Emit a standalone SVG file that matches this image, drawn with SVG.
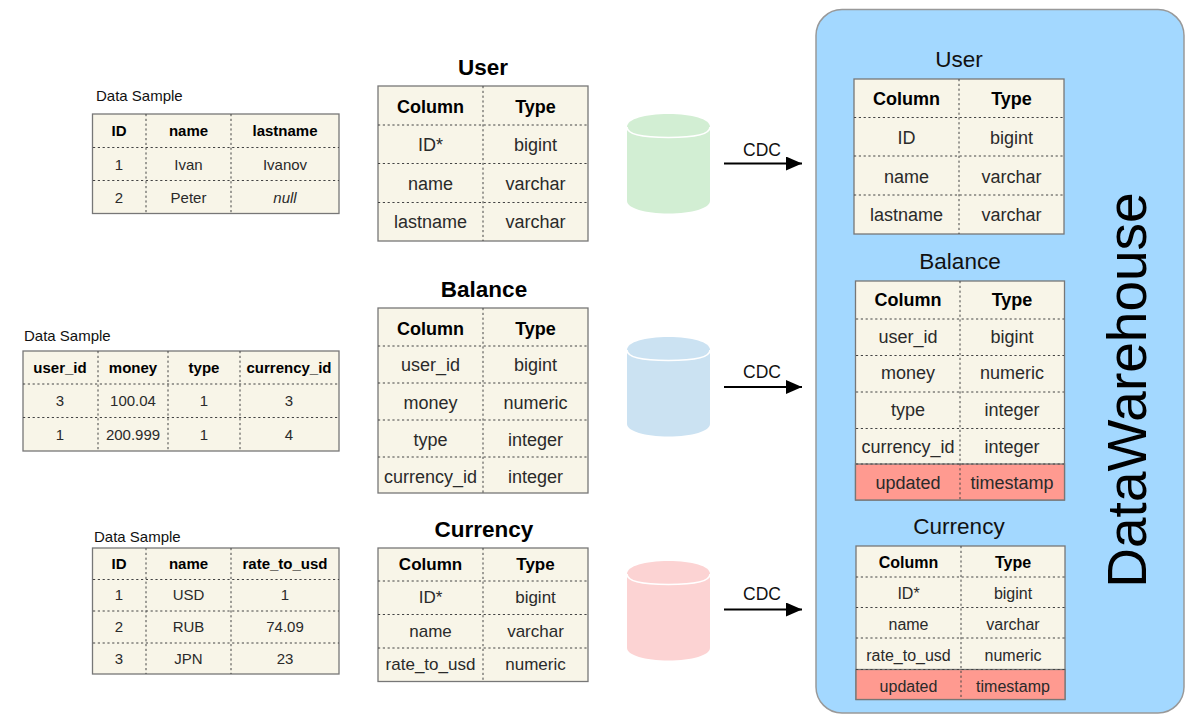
<svg xmlns="http://www.w3.org/2000/svg" width="1200" height="724" viewBox="0 0 1200 724">
<defs>
<marker id="ah" markerUnits="userSpaceOnUse" markerWidth="16" markerHeight="14" refX="16" refY="7" orient="auto"><path d="M0 0L16 7L0 14Z" fill="#000"/></marker>
</defs>
<style>
text{font-family:"Liberation Sans",Arial,sans-serif;text-anchor:middle;fill:#2a2a2a}
.box{fill:#f8f5e8;stroke:#777;stroke-width:1.3}
.red{fill:#ff9a90}
.div{stroke:#444;stroke-width:1;stroke-dasharray:2.2 2.6;fill:none}
.b{font-weight:bold;fill:#000}
.s15{font-size:15px}.s16{font-size:16px}.s17{font-size:17px}.s18{font-size:18px}
.cdc{font-size:17.500px;fill:#111}
.lbl{font-size:15px;text-anchor:start;fill:#111}
.title{font-size:22.500px;font-weight:bold;fill:#000}
.dwt{font-size:22.500px;fill:#111}
.i{font-style:italic}
.cyl-top{fill:none;stroke:#fff;stroke-width:1.6}
.conn{stroke:#000;stroke-width:2.2;fill:none;marker-end:url(#ah)}
</style>
<rect id="dw-bg" x="816" y="9.500" width="368" height="703.500" rx="26" fill="#a3d8ff" stroke="#999" stroke-width="1.500"/>
<text x="1146" y="390" transform="rotate(-90 1146 390)" font-size="55" style="fill:#000">DataWarehouse</text>

<g id="sample-user">
<text class="lbl" x="96" y="101">Data Sample</text>
<rect class="box" x="92.500" y="114" width="246.500" height="99.500"/>
<path class="div" d="M146 114V213M231 114V213M93 147.500H339M93 180.500H339"/>
<text class="s15 b" x="119" y="136">ID</text><text class="s15 b" x="188.500" y="136">name</text><text class="s15 b" x="285" y="136">lastname</text>
<text class="s15" x="119" y="170">1</text><text class="s15" x="188.500" y="170">Ivan</text><text class="s15" x="285" y="170">Ivanov</text>
<text class="s15" x="119" y="203">2</text><text class="s15" x="188.500" y="203">Peter</text><text class="s15 i" x="285" y="203">null</text>
</g>

<g id="sample-balance">
<text class="lbl" x="24" y="341">Data Sample</text>
<rect class="box" x="23" y="351" width="316" height="100"/>
<path class="div" d="M98 351V451M168 351V451M240 351V451M23 384H339M23 417.500H339"/>
<text class="s15 b" x="60" y="373">user_id</text><text class="s15 b" x="133" y="373">money</text><text class="s15 b" x="204" y="373">type</text><text class="s15 b" x="289" y="373">currency_id</text>
<text class="s15" x="60" y="406">3</text><text class="s15" x="133" y="406">100.04</text><text class="s15" x="204" y="406">1</text><text class="s15" x="289" y="406">3</text>
<text class="s15" x="60" y="440">1</text><text class="s15" x="133" y="440">200.999</text><text class="s15" x="204" y="440">1</text><text class="s15" x="289" y="440">4</text>
</g>

<g id="sample-currency">
<text class="lbl" x="94" y="542">Data Sample</text>
<rect class="box" x="92.500" y="548" width="246.500" height="126"/>
<path class="div" d="M146 548V674M231 548V674M93 579.500H339M93 611H339M93 643H339"/>
<text class="s15 b" x="119" y="569">ID</text><text class="s15 b" x="188.500" y="569">name</text><text class="s15 b" x="285" y="569">rate_to_usd</text>
<text class="s15" x="119" y="600">1</text><text class="s15" x="188.500" y="600">USD</text><text class="s15" x="285" y="600">1</text>
<text class="s15" x="119" y="632">2</text><text class="s15" x="188.500" y="632">RUB</text><text class="s15" x="285" y="632">74.09</text>
<text class="s15" x="119" y="664">3</text><text class="s15" x="188.500" y="664">JPN</text><text class="s15" x="285" y="664">23</text>
</g>

<g id="table-user">
<text class="title" x="483" y="75">User</text>
<rect class="box" x="378" y="86" width="210" height="155"/>
<path class="div" d="M483 86V241M378 125H588M378 163.500H588M378 202.500H588"/>
<text class="s18 b" x="430.500" y="113">Column</text><text class="s18 b" x="535.500" y="113">Type</text>
<text class="s18" x="430.500" y="151">ID*</text><text class="s18" x="535.500" y="151">bigint</text>
<text class="s18" x="430.500" y="190">name</text><text class="s18" x="535.500" y="190">varchar</text>
<text class="s18" x="430.500" y="228">lastname</text><text class="s18" x="535.500" y="228">varchar</text>
</g>

<g id="table-balance">
<text class="title" x="484" y="297">Balance</text>
<rect class="box" x="378" y="308" width="210" height="185"/>
<path class="div" d="M483 308V493M378 346H588M378 383H588M378 420H588M378 457H588"/>
<text class="s18 b" x="430.500" y="335">Column</text><text class="s18 b" x="535.500" y="335">Type</text>
<text class="s18" x="430.500" y="371">user_id</text><text class="s18" x="535.500" y="371">bigint</text>
<text class="s18" x="430.500" y="409">money</text><text class="s18" x="535.500" y="409">numeric</text>
<text class="s18" x="430.500" y="446">type</text><text class="s18" x="535.500" y="446">integer</text>
<text class="s18" x="430.500" y="483">currency_id</text><text class="s18" x="535.500" y="483">integer</text>
</g>

<g id="table-currency">
<text class="title" x="484" y="537">Currency</text>
<rect class="box" x="378" y="548" width="210" height="133.500"/>
<path class="div" d="M483 548V681M378 581H588M378 614.500H588M378 648H588"/>
<text class="s17 b" x="430.500" y="570">Column</text><text class="s17 b" x="535.500" y="570">Type</text>
<text class="s17" x="430.500" y="603">ID*</text><text class="s17" x="535.500" y="603">bigint</text>
<text class="s17" x="430.500" y="637">name</text><text class="s17" x="535.500" y="637">varchar</text>
<text class="s17" x="430.500" y="670">rate_to_usd</text><text class="s17" x="535.500" y="670">numeric</text>
</g>

<g id="db-user">
<path d="M627 127C627 119 645 114 668.500 114S710 119 710 127V201C710 208 692 213.500 668.500 213.500S627 208 627 201Z" fill="#d2eed3"/>
<path class="cyl-top" d="M627 127C627 135 645 137.500 668.500 137.500S710 135 710 127"/>
</g>
<g id="db-balance">
<path d="M627 350C627 342 645 337 668.500 337S710 342 710 350V424C710 431 692 436.500 668.500 436.500S627 431 627 424Z" fill="#cbe2f2"/>
<path class="cyl-top" d="M627 350C627 358 645 360.500 668.500 360.500S710 358 710 350"/>
</g>
<g id="db-currency">
<path d="M627 574C627 566 645 561 668.500 561S710 566 710 574V648C710 655 692 660.500 668.500 660.500S627 655 627 648Z" fill="#fcd3d3"/>
<path class="cyl-top" d="M627 574C627 582 645 584.500 668.500 584.500S710 582 710 574"/>
</g>

<g id="connectors">
<line class="conn" x1="724" y1="163.500" x2="802" y2="163.500"/>
<line class="conn" x1="724" y1="387" x2="802" y2="387"/>
<line class="conn" x1="724" y1="609.500" x2="802" y2="609.500"/>
<text class="cdc" x="762" y="156">CDC</text>
<text class="cdc" x="762" y="378">CDC</text>
<text class="cdc" x="762" y="600">CDC</text>
</g>

<g id="dw-user">
<text class="dwt" x="959" y="67">User</text>
<rect class="box" x="854" y="79" width="210" height="155"/>
<path class="div" d="M959 79V234M854 117.500H1064M854 156H1064M854 195H1064"/>
<text class="s18 b" x="906.500" y="105">Column</text><text class="s18 b" x="1011.500" y="105">Type</text>
<text class="s18" x="906.500" y="144">ID</text><text class="s18" x="1011.500" y="144">bigint</text>
<text class="s18" x="906.500" y="183">name</text><text class="s18" x="1011.500" y="183">varchar</text>
<text class="s18" x="906.500" y="221">lastname</text><text class="s18" x="1011.500" y="221">varchar</text>
</g>

<g id="dw-balance">
<text class="dwt" x="960" y="269">Balance</text>
<rect class="box" x="855.500" y="281" width="209" height="219"/>
<rect class="box red" x="855.500" y="464" width="209" height="36"/>
<path class="div" d="M960 281V500M856 319H1064M856 355.500H1064M856 392H1064M856 428.500H1064M856 464H1064"/>
<text class="s18 b" x="908" y="306">Column</text><text class="s18 b" x="1012" y="306">Type</text>
<text class="s18" x="908" y="343">user_id</text><text class="s18" x="1012" y="343">bigint</text>
<text class="s18" x="908" y="379">money</text><text class="s18" x="1012" y="379">numeric</text>
<text class="s18" x="908" y="416">type</text><text class="s18" x="1012" y="416">integer</text>
<text class="s18" x="908" y="453">currency_id</text><text class="s18" x="1012" y="453">integer</text>
<text class="s18" x="908" y="489">updated</text><text class="s18" x="1012" y="489">timestamp</text>
</g>

<g id="dw-currency">
<text class="dwt" x="959" y="534">Currency</text>
<rect class="box" x="856" y="546" width="209" height="153.500"/>
<rect class="box red" x="856" y="669.500" width="209" height="30"/>
<path class="div" d="M961 546V699M856 577H1065M856 607.500H1065M856 638H1065M856 669.500H1065"/>
<text class="s16 b" x="908.500" y="568">Column</text><text class="s16 b" x="1013" y="568">Type</text>
<text class="s16" x="908.500" y="599">ID*</text><text class="s16" x="1013" y="599">bigint</text>
<text class="s16" x="908.500" y="630">name</text><text class="s16" x="1013" y="630">varchar</text>
<text class="s16" x="908.500" y="661">rate_to_usd</text><text class="s16" x="1013" y="661">numeric</text>
<text class="s16" x="908.500" y="692">updated</text><text class="s16" x="1013" y="692">timestamp</text>
</g>
</svg>
